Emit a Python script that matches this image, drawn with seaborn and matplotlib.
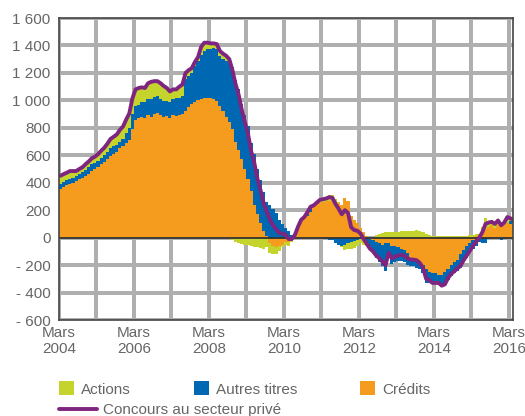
import numpy as np
import pandas as pd
import matplotlib
matplotlib.use("Agg")
import matplotlib.pyplot as plt
import seaborn as sns
from matplotlib.patches import Patch
from matplotlib.lines import Line2D

# monthly flows, March 2004 -> April 2016 (one row = one year, Mar..Feb)
credits = [
    357, 370, 380, 390, 400, 410, 425, 435, 450, 465, 485, 500,
    515, 535, 550, 570, 595, 610, 625, 650, 665, 690, 710, 790,
    860, 870, 880, 875, 890, 880, 900, 905, 890, 880, 885, 875,
    890, 885, 895, 900, 925, 950, 975, 990, 1005, 1010, 1015, 1020,
    1015, 1010, 995, 960, 920, 880, 840, 790, 700, 640, 575, 500,
    430, 340, 240, 170, 110, 50, 10, -40, -60, -70, -60, -50,
    -30, -30, -10, 30, 70, 120, 140, 160, 190, 225, 245, 255,
    260, 265, 270, 275, 265, 250, 240, 290, 265, 160, 130, 110,
    70, 40, 15, -10, -20, -30, -40, -50, -40, -40, -60, -60,
    -70, -80, -90, -110, -150, -160, -170, -180, -200, -230, -250, -260,
    -260, -270, -270, -250, -230, -200, -180, -160, -120, -90, -60, -40,
    -15, 10, 20, 40, 60, 80, 90, 70, 90, 100, 100, 110,
    100, 110,
]
autres_titres = [
    36, 35, 38, 37, 35, 40, 38, 40, 45, 48, 50, 45,
    45, 48, 50, 55, 58, 55, 52, 50, 55, 70, 90, 110,
    100, 95, 105, 115, 120, 130, 125, 125, 120, 115, 110, 115,
    120, 130, 125, 130, 230, 230, 225, 260, 285, 320, 345, 355,
    360, 370, 380, 360, 380, 410, 430, 450, 450, 440, 400, 390,
    380, 350, 370, 330, 310, 280, 250, 240, 210, 180, 130, 100,
    70, 50, 20, 0, 0, 0, 0, 15, 25, -5, -5, 0,
    -5, -10, -15, -20, -40, -50, -60, -50, -40, -30, -25, -15,
    -10, -20, -40, -50, -80, -120, -140, -160, -200, -110, -130, -120,
    -100, -90, -90, -90, -60, -50, -50, -50, -60, -100, -80, -80,
    -80, -70, -90, -100, -80, -80, -80, -80, -100, -90, -85, -75,
    -65, -60, -30, -40, -40, -10, -5, 0, 5, -20, -10, 0,
    20, 30,
]
actions = [
    58, 58, 55, 58, 50, 35, 37, 38, 40, 42, 43, 45,
    48, 50, 55, 60, 66, 70, 75, 85, 90, 100, 105, 115,
    120, 125, 110, 100, 115, 125, 115, 110, 115, 110, 95, 75,
    70, 65, 80, 85, 45, 40, 35, 30, 25, 60, 60, 45,
    40, 35, 35, 40, 40, 35, 30, -20, -30, -40, -45, -50,
    -55, -60, -65, -70, -75, -80, -70, -70, -60, -50, -35, -20,
    -20, -30, -20, -10, 10, 10, 10, 10, 10, 15, 15, 20,
    25, 30, 40, 35, 20, 10, -10, -40, -45, -55, -50, -45,
    -30, -30, -20, -20, 0, 20, 30, 35, 40, 40, 40, 40,
    40, 45, 50, 50, 50, 50, 55, 45, 40, 30, 20, 10,
    10, 10, 10, 10, 15, 15, 15, 15, 15, 15, 15, 20,
    20, 20, 10, 40, 80, 40, 30, 30, 30, 10, 20, 40,
    20, -10,
]
x_labels = ["Mars\n2004", "", "Mars\n2006", "", "Mars\n2008", "", "Mars\n2010", "",
            "Mars\n2012", "", "Mars\n2014", "", "Mars\n2016"]
y_ticks = [-600, -400, -200, 0, 200, 400, 600, 800, 1000, 1200, 1400, 1600]
y_labels = ["- 600", "- 400", "- 200", "0", "200", "400", "600", "800",
            "1 000", "1 200", "1 400", "1 600"]

df = pd.DataFrame({"Crédits": credits, "Autres titres": autres_titres, "Actions": actions})
df["month"] = np.arange(len(df))
df["Concours au secteur privé"] = df["Crédits"] + df["Autres titres"] + df["Actions"]

colors = {"Actions": "#C4D42C", "Autres titres": "#0067B2", "Crédits": "#F59C1E"}
line_color = "#7E2580"
text_color = "#666666"
grid_color = "#AFAFAF"

sns.set_style("white")
plt.rcParams["font.family"] = ["Liberation Sans", "DejaVu Sans"]

fig, ax = plt.subplots(figsize=(5.25, 4.16), dpi=100)
fig.subplots_adjust(left=59 / 525, right=513 / 525, bottom=1 - 320 / 416, top=1 - 18 / 416)

x_ticks = np.arange(0, 145, 12)

pos_bottom = np.zeros(len(df))
neg_bottom = np.zeros(len(df))
for name in ["Crédits", "Autres titres", "Actions"]:
    v = df[name].to_numpy(dtype=float)
    bottom = np.where(v >= 0, pos_bottom, neg_bottom)
    ax.bar(df["month"], v, bottom=bottom, width=1.0, align="edge",
           color=colors[name], linewidth=0, zorder=3)
    pos_bottom += np.clip(v, 0, None)
    neg_bottom += np.clip(v, None, 0)

sns.lineplot(x=df["month"] + 0.5, y=df["Concours au secteur privé"], ax=ax,
             color=line_color, linewidth=2.8, zorder=5)
ax.axhline(0, color="#333333", linewidth=1.3, zorder=4)

ax.set_xlim(0, 145.3)
ax.set_ylim(-600, 1600)
ax.set_xticks(x_ticks)
ax.set_xticklabels(x_labels)
ax.set_yticks(y_ticks)
ax.set_yticklabels(y_labels)
ax.set_xlabel("")
ax.set_ylabel("")
ax.set_axisbelow(True)
ax.grid(True, color=grid_color, linewidth=1.5, antialiased=False)
ax.tick_params(length=0, labelsize=11, labelcolor=text_color)
ax.tick_params(axis="y", pad=6)
ax.tick_params(axis="x", pad=4)
for s in ax.spines.values():
    s.set_visible(True)
    s.set_color("#444444")
    s.set_linewidth(1.2)
    s.set_zorder(6)

patches = [Patch(facecolor=colors[n], edgecolor="none", label=n)
           for n in ["Actions", "Autres titres", "Crédits"]]
leg1 = fig.legend(handles=patches, loc="center left", bbox_to_anchor=(59 / 525, 1 - 389 / 416),
                  ncol=3, frameon=False, fontsize=11, handlelength=1.0, handleheight=1.0,
                  handletextpad=0.45, columnspacing=4.1, borderpad=0, borderaxespad=0)
for t in leg1.get_texts():
    t.set_color(text_color)
line_handle = [Line2D([0], [0], color=line_color, linewidth=2.8, label="Concours au secteur privé")]
leg2 = fig.legend(handles=line_handle, loc="center left", bbox_to_anchor=(59 / 525, 1 - 410 / 416),
                  frameon=False, fontsize=11, handlelength=2.5, handletextpad=0.35,
                  borderpad=0, borderaxespad=0)
for t in leg2.get_texts():
    t.set_color(text_color)

fig.savefig("out.png", dpi=100)
